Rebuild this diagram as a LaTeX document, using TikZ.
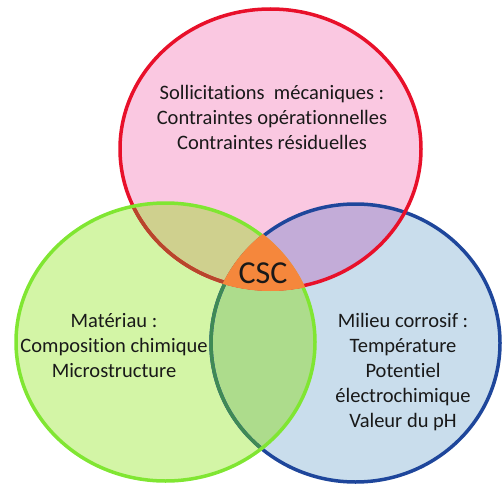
\documentclass[tikz,border=0pt]{standalone}
\usepackage{fontspec}
\setmainfont[Ligatures=NoCommon]{Carlito}
\definecolor{pinkfill}{RGB}{250,200,225}
\definecolor{greenfill}{RGB}{211,245,166}
\definecolor{bluefill}{RGB}{201,221,236}
\definecolor{olivefill}{RGB}{207,208,142}
\definecolor{purplefill}{RGB}{195,172,216}
\definecolor{gbfill}{RGB}{173,220,140}
\definecolor{orangefill}{RGB}{245,135,60}
\definecolor{redline}{RGB}{232,16,42}
\definecolor{greenline}{RGB}{128,230,50}
\definecolor{blueline}{RGB}{30,70,155}
\definecolor{redingreen}{RGB}{184,70,44}
\definecolor{blueingreen}{RGB}{63,138,85}
\definecolor{txt}{RGB}{25,25,25}
\tikzset{
  ring/.style={line width=3.5pt},
  label/.style={align=center, text=txt, font=\fontsize{20.5}{25}\selectfont, inner sep=0pt},
}
\begin{document}
\begin{tikzpicture}[x=1pt,y=-1pt]
\useasboundingbox (0,0) rectangle (503,484);
\coordinate (R) at (270.5,149);
\coordinate (G) at (165.5,342);
\coordinate (B) at (355.5,343);
\def\redE{(R) ellipse [x radius=150.5pt, y radius=140pt]}
\def\greenE{(G) ellipse [x radius=149.5pt, y radius=139pt]}
\def\blueE{(B) ellipse [x radius=144.5pt, y radius=139pt]}
% base fills
\fill[pinkfill] \redE;
\fill[greenfill] \greenE;
\fill[bluefill] \blueE;
% pairwise overlaps
\begin{scope}\clip \redE; \fill[olivefill] \greenE; \end{scope}
\begin{scope}\clip \redE; \fill[purplefill] \blueE; \end{scope}
\begin{scope}\clip \greenE; \fill[gbfill] \blueE; \end{scope}
% outlines
\draw[ring, blueline] \blueE;
\draw[ring, redline] \redE;
\begin{scope}
  \clip \greenE;
  \draw[ring, redingreen] \redE;
  \draw[ring, blueingreen] \blueE;
\end{scope}
\draw[ring, greenline] \greenE;
% triple intersection
\begin{scope}
  \clip (R) ellipse [x radius=152.5pt, y radius=142pt];
  \clip (G) ellipse [x radius=151.5pt, y radius=141pt];
  \fill[orangefill] (B) ellipse [x radius=146.5pt, y radius=141pt];
\end{scope}
% texts
\node[label] (meca) at (272,117) {Sollicitations~ mécaniques :\\Contraintes opérationnelles\\Contraintes résiduelles};
\node[label] (mat) at (114,346) {Matériau :\\Composition chimique\\Microstructure};
\node[label] (mil) at (403,372) {Milieu corrosif :\\Température\\Potentiel\\électrochimique\\Valeur du pH};
\node[label, font=\fontsize{32}{34}\selectfont] (csc) at (263,273) {CSC};
\end{tikzpicture}
\end{document}
